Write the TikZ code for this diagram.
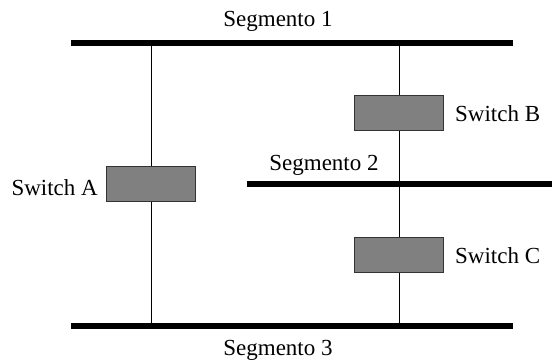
\documentclass[tikz,border=0pt]{standalone}
\usepackage{fontspec}
\setmainfont{Liberation Serif}
\begin{document}
\begin{tikzpicture}[x=1pt,y=-1pt,
  seg/.style={line width=6.5pt},
  wire/.style={line width=1pt},
  sw/.style={draw=black!80,line width=1.2pt,fill=black!50,minimum width=89pt,minimum height=35pt,inner sep=0pt},
  lbl/.style={font=\fontsize{23}{27}\selectfont,inner sep=0pt,anchor=base}]
\useasboundingbox (0,0) rectangle (552,364);
% segments
\coordinate (s1a) at (71,43); \coordinate (s1b) at (513,43);
\coordinate (s2a) at (247,184); \coordinate (s2b) at (552,184);
\coordinate (s3a) at (71,326); \coordinate (s3b) at (513,326);
\draw[seg] (s1a) -- (s1b);
\draw[seg] (s2a) -- (s2b);
\draw[seg] (s3a) -- (s3b);
% verticals
\coordinate (a1) at (151,43); \coordinate (a3) at (151,326);
\coordinate (b1) at (399,43); \coordinate (b3) at (399,326);
\draw[wire] (a1) -- (a3);
\draw[wire] (b1) -- (b3);
% switches
\node[sw] (swA) at (151,184) {};
\node[sw] (swB) at (399,113) {};
\node[sw] (swC) at (399,255) {};
% labels
\node[lbl] (l1) at (278,26) {Segmento 1};
\node[lbl] (l2) at (324,170) {Segmento 2};
\node[lbl] (l3) at (278,355) {Segmento 3};
\node[lbl,anchor=base east] (lA) at (98,195) {Switch A};
\node[lbl,anchor=base west] (lB) at (455,121) {Switch B};
\node[lbl,anchor=base west] (lC) at (455,263) {Switch C};
\end{tikzpicture}
\end{document}
